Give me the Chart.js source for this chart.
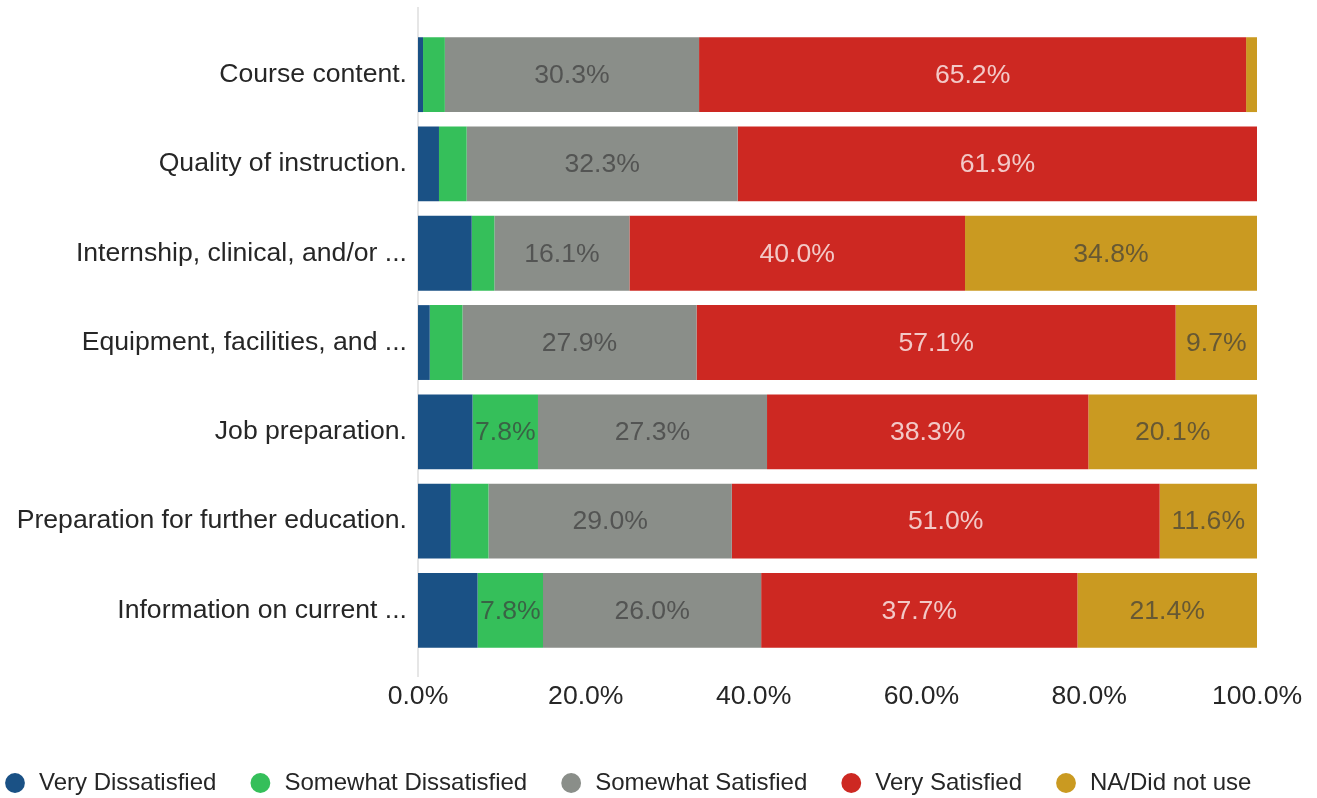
<!DOCTYPE html>
<html>
<head>
<meta charset="utf-8">
<script src="https://cdn.jsdelivr.net/npm/chart.js@4.4.1/dist/chart.umd.min.js"></script>
<style>
  html, body { margin: 0; padding: 0; background: #fff; }
  #wrap { width: 1317px; height: 798px; position: relative; }
</style>
</head>
<body>
<div id="wrap"><canvas id="chart"></canvas></div>
<script>
const categories = [
  'Course content.',
  'Quality of instruction.',
  'Internship, clinical, and/or ...',
  'Equipment, facilities, and ...',
  'Job preparation.',
  'Preparation for further education.',
  'Information on current ...'
];
const veryDissatisfied     = [0.6, 2.5, 6.4, 1.4, 6.5, 3.9, 7.1];
const somewhatDissatisfied = [2.6, 3.3, 2.7, 3.9, 7.8, 4.5, 7.8];
const somewhatSatisfied    = [30.3, 32.3, 16.1, 27.9, 27.3, 29.0, 26.0];
const verySatisfied        = [65.2, 61.9, 40.0, 57.1, 38.3, 51.0, 37.7];
const naDidNotUse          = [1.3, 0, 34.8, 9.7, 20.1, 11.6, 21.4];
const xTicks = [0, 20, 40, 60, 80, 100];

const FONT = '"Liberation Sans", Arial, sans-serif';
const TEXT = '#262626';
const DARK_LABEL = 'rgba(60,60,60,0.7)';

function series(label, data, color, labelColor) {
  return {
    label, data,
    backgroundColor: color,
    borderWidth: 0,
    barPercentage: 0.838,
    categoryPercentage: 1,
    labelColor
  };
}

// light grey axis line that runs a bit past the bars
const axisLine = {
  id: 'axisLine',
  beforeDatasetsDraw(chart) {
    const { ctx, chartArea } = chart;
    const x = chart.scales.x.getPixelForValue(0);
    ctx.save();
    ctx.strokeStyle = '#e6e6e6';
    ctx.lineWidth = 2;
    ctx.beginPath();
    ctx.moveTo(x, chartArea.top - 23);
    ctx.lineTo(x, chartArea.bottom + 22);
    ctx.stroke();
    ctx.restore();
  }
};

// percentage labels inside the wider segments
const segLabels = {
  id: 'segLabels',
  afterDatasetsDraw(chart) {
    const { ctx } = chart;
    ctx.save();
    ctx.font = '26.6px ' + FONT;
    ctx.textAlign = 'center';
    ctx.textBaseline = 'middle';
    chart.data.datasets.forEach((ds, i) => {
      chart.getDatasetMeta(i).data.forEach((bar, j) => {
        const v = ds.data[j];
        if (v < 7.5) return;
        const p = bar.getProps(['x', 'y', 'base'], true);
        ctx.fillStyle = ds.labelColor;
        ctx.fillText(v.toFixed(1) + '%', (p.x + p.base) / 2, p.y + 1);
      });
    });
    ctx.restore();
  }
};

// legend sits flush with the left edge in the reference
const legendShift = {
  id: 'legendShift',
  afterLayout(chart) {
    if (chart.legend) chart.legend.left = -29;
  }
};

new Chart(document.getElementById('chart'), {
  type: 'bar',
  data: {
    labels: categories,
    datasets: [
      series('Very Dissatisfied', veryDissatisfied, '#1a5185', DARK_LABEL),
      series('Somewhat Dissatisfied', somewhatDissatisfied, '#35bf5a', DARK_LABEL),
      series('Somewhat Satisfied', somewhatSatisfied, '#8a8e89', DARK_LABEL),
      series('Very Satisfied', verySatisfied, '#cd2822', 'rgba(255,255,255,0.75)'),
      series('NA/Did not use', naDidNotUse, '#ca9a21', DARK_LABEL)
    ]
  },
  options: {
    indexAxis: 'y',
    responsive: true,
    maintainAspectRatio: false,
    animation: false,
    layout: { padding: { top: 30, left: 0, right: 0, bottom: -7 } },
    scales: {
      x: {
        stacked: true,
        min: 0,
        max: 100,
        afterBuildTicks: s => { s.ticks = xTicks.map(v => ({ value: v })); },
        afterFit: s => { s.paddingRight = 60; },
        grid: { display: false, drawTicks: false },
        border: { display: false },
        ticks: {
          padding: 26,
          color: TEXT,
          font: { family: FONT, size: 26.6 },
          callback: v => v.toFixed(1) + '%'
        }
      },
      y: {
        stacked: true,
        afterFit: s => { s.width = 418; },
        grid: { display: false, drawTicks: false },
        border: { display: false },
        ticks: {
          padding: 11,
          color: TEXT,
          font: { family: FONT, size: 26.6 }
        }
      }
    },
    plugins: {
      legend: {
        position: 'bottom',
        align: 'start',
        labels: {
          usePointStyle: true,
          pointStyle: 'circle',
          boxWidth: 24,
          boxHeight: 14,
          padding: 32,
          color: TEXT,
          font: { family: FONT, size: 24 }
        }
      },
      tooltip: { enabled: false }
    }
  },
  plugins: [axisLine, segLabels, legendShift]
});
</script>
</body>
</html>
